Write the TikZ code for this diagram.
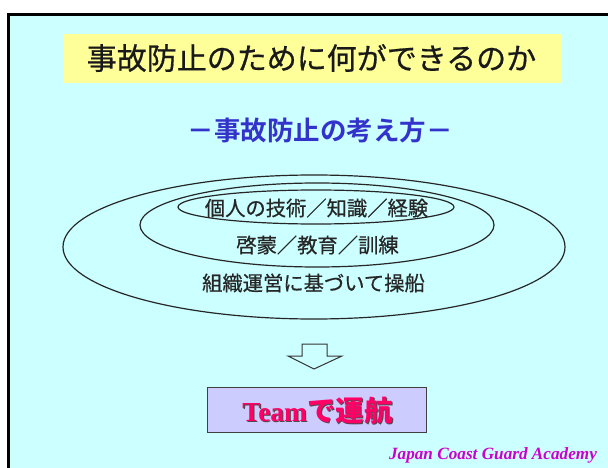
\documentclass[tikz,border=0pt]{standalone}
\usepackage{fontspec}
\setmainfont{Liberation Serif}
\newfontfamily\jp{Noto Sans CJK JP}
\newfontfamily\jpm{Noto Sans CJK JP}[FakeBold=0.6]
\newfontfamily\jpb{Noto Sans CJK JP Bold}
\definecolor{bgcyan}{HTML}{CCFFFF}
\definecolor{titley}{HTML}{FFFF99}
\definecolor{subblue}{HTML}{3333CC}
\definecolor{boxlav}{HTML}{CCCCFF}
\definecolor{teamred}{HTML}{FF0066}
\definecolor{acadmag}{HTML}{CC00CC}
\begin{document}
\begin{tikzpicture}[x=1pt,y=-1pt,
  ring/.style={draw=black!85, line width=1.2pt},
  ringtext/.style={font=\jpm\fontsize{20.3}{24}\selectfont, text=black!85, inner sep=0pt},
  arrowshape/.style={draw=black!80, fill=bgcyan, line width=1pt, line join=miter}]
\useasboundingbox (0,0) rectangle (608,468);
\clip (0,0) rectangle (608,468);
\fill[white] (0,0) rectangle (608,468);
\draw[fill=bgcyan, line width=3pt] (8.5,14.5) rectangle (640,500);
% title
\node[fill=titley, minimum width=498pt, minimum height=49pt, inner sep=0pt] (title) at (311.5,58.5) {};
\node[font=\jpm\fontsize{30}{34}\selectfont, text=black!90] (titletext) at (311.5,58) {事故防止のために何ができるのか};
% subtitle
\node[font=\jpb\fontsize{26.5}{30}\selectfont, text=subblue] (sub) at (320,130) {－事故防止の考え方－};
% ellipses
\draw[ring] (314,247) ellipse [x radius=251, y radius=72];
\draw[ring] (317,225) ellipse [x radius=177, y radius=42];
\draw[ring] (316,207) ellipse [x radius=138, y radius=17];
\node[ringtext] (t1) at (316.5,208) {個人の技術／知識／経験};
\node[ringtext] (t2) at (317.5,245) {啓蒙／教育／訓練};
\node[ringtext] (t3) at (313.5,283) {組織運営に基づいて操船};
% hollow arrow
\draw[arrowshape] (302,344) -- (327,344) -- (327,356) -- (342,356) -- (314,369) -- (288,356) -- (302,356) -- cycle;
% team box
\node[draw=black!75, fill=boxlav, line width=1pt, minimum width=219pt, minimum height=45pt, inner sep=0pt] (team) at (316.5,409.5) {};
\node[text=black!70, inner sep=0pt] at (318.5,411.5) {\fontsize{27.5}{30}\selectfont\bfseries Team{\jp\fontsize{28.5}{30}\selectfont で運航}};
\node[text=teamred, inner sep=0pt] (teamtext) at (317.5,410.5) {\fontsize{27.5}{30}\selectfont\bfseries Team{\jp\fontsize{28.5}{30}\selectfont で運航}};
% academy
\node[text=acadmag, font=\fontsize{17.2}{20}\selectfont\bfseries\itshape, inner sep=0pt] (acad) at (493,455) {Japan Coast Guard Academy};
\end{tikzpicture}
\end{document}
